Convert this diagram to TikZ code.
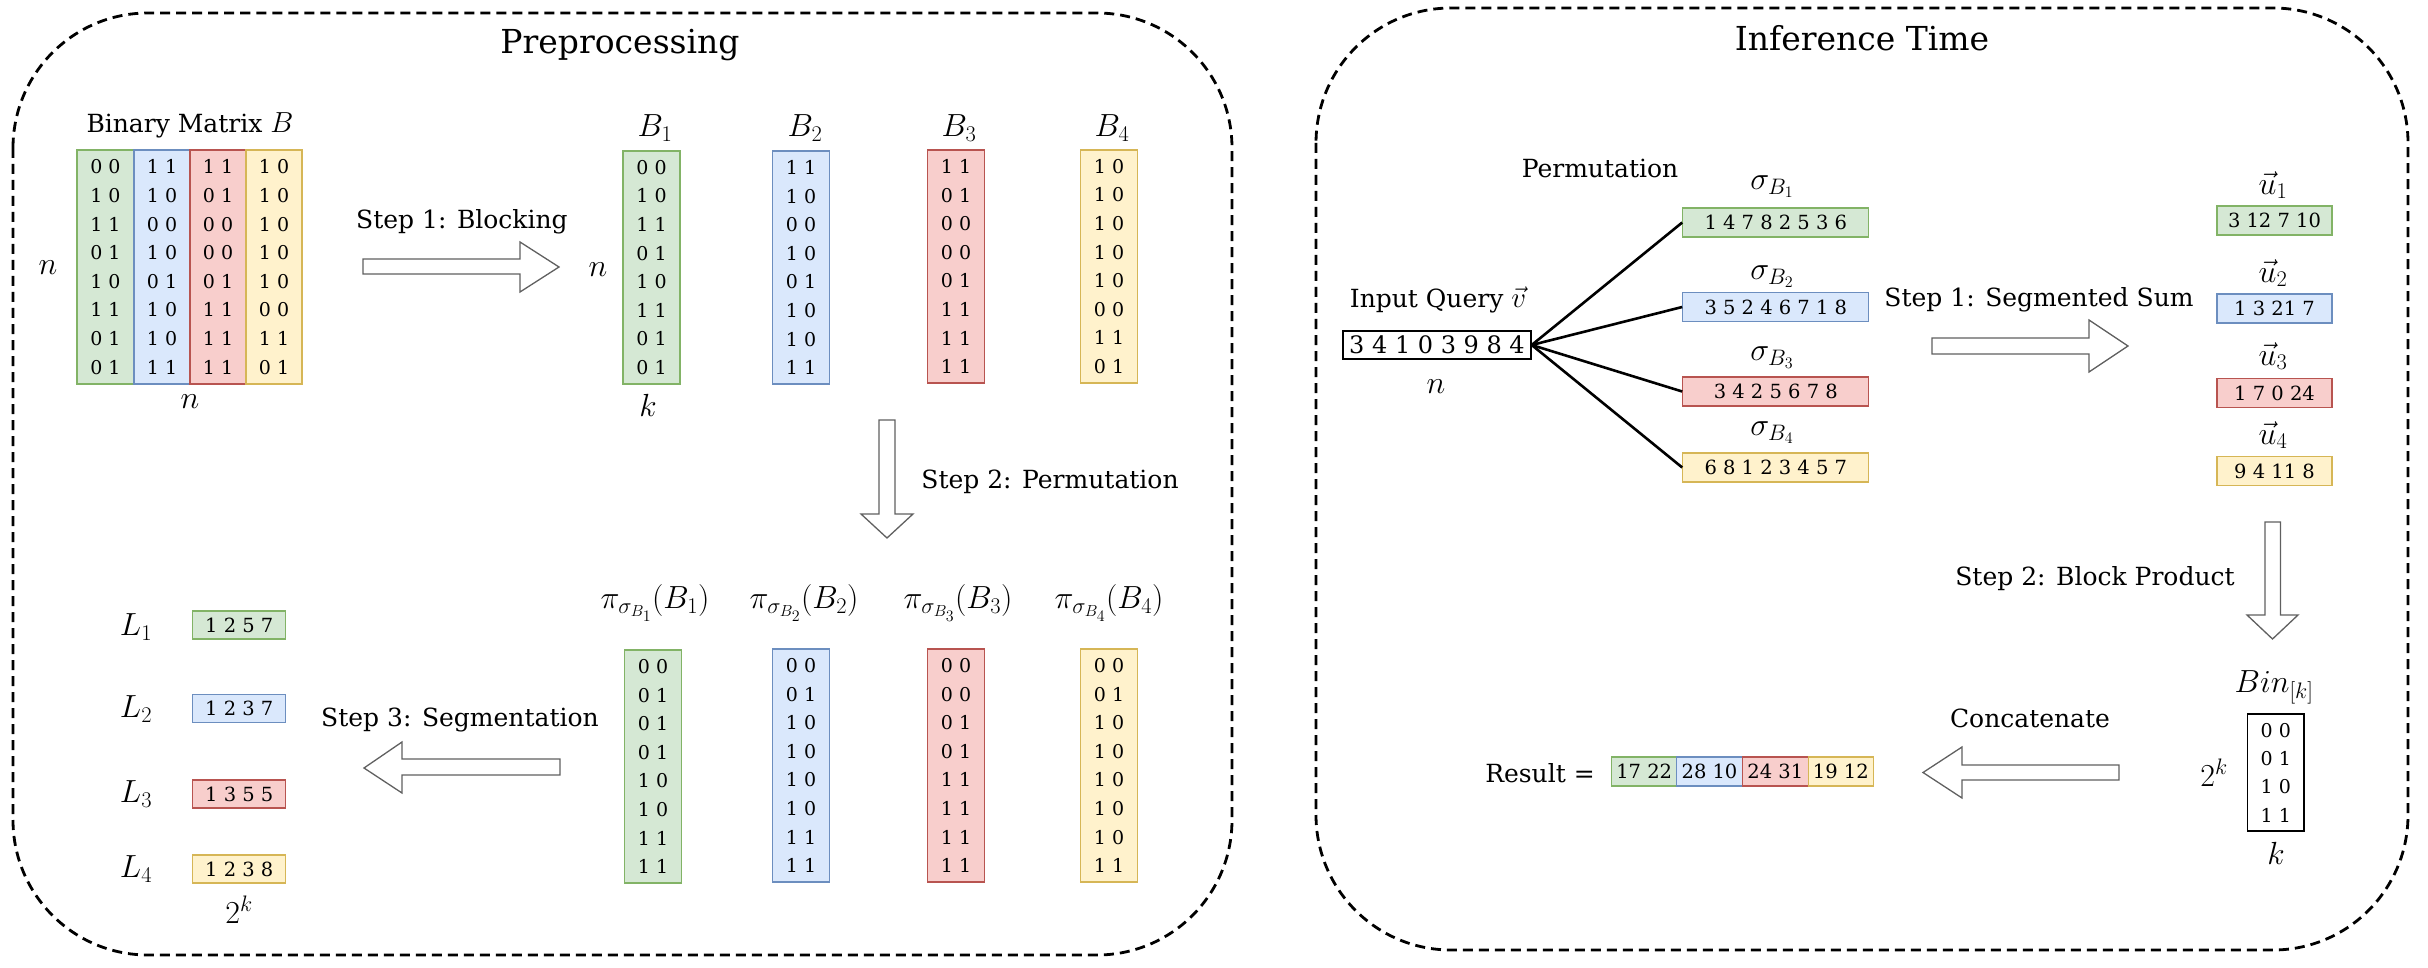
\RequirePackage{fix-cm}
\documentclass[tikz,border=0pt]{standalone}
\usepackage[no-math]{fontspec}
\setmainfont{DejaVu Serif}
\definecolor{gF}{HTML}{D5E8D4}\definecolor{gD}{HTML}{82B366}
\definecolor{bF}{HTML}{DAE8FC}\definecolor{bD}{HTML}{6C8EBF}
\definecolor{rF}{HTML}{F8CECC}\definecolor{rD}{HTML}{B85450}
\definecolor{yF}{HTML}{FFF2CC}\definecolor{yD}{HTML}{D6B656}
\definecolor{arrgray}{HTML}{606060}
\newcommand\szTitle{\fontsize{33}{38}\selectfont}
\newcommand\szLab{\fontsize{25}{30}\selectfont}
\newcommand\szDig{\fontsize{19}{28.6}\selectfont}
\newcommand\szRow{\fontsize{19.5}{24}\selectfont}
\newcommand\szQ{\fontsize{24}{28}\selectfont}
\newcommand\szMath{\fontsize{32}{36}\selectfont}
\newcommand\szMathS{\fontsize{29}{32}\selectfont}
\tikzset{
  panel/.style={draw, line width=2.8pt, dash pattern=on 10pt off 6pt, rounded corners=135pt},
  col/.style={inner sep=0pt, align=center, font=\szDig, line width=1.2pt},
  rowbox/.style={inner sep=0pt, font=\szRow, line width=1.2pt},
  gbox/.style={draw=gD, fill=gF},
  bbox/.style={draw=bD, fill=bF},
  rbox/.style={draw=rD, fill=rF},
  ybox/.style={draw=yD, fill=yF},
  barrow/.style={draw=arrgray, fill=white, line width=1.3pt, line join=miter},
  fan/.style={line width=2.6pt},
  lab/.style={font=\szLab, inner sep=0pt},
  mth/.style={font=\szMath, inner sep=0pt},
  ttl/.style={font=\szTitle, inner sep=0pt}
}
\begin{document}
\begin{tikzpicture}[x=1pt,y=-1pt]
\useasboundingbox (0,0) rectangle (2428,968);
% panels
\draw[panel] (13,13) rectangle (1232,955);
\draw[panel] (1316,8) rectangle (2408,950);
\node[ttl] (tpre) at (620,45) {Preprocessing};
\node[ttl] (tinf) at (1862,38) {Inference Time};

% ---------------- Preprocessing ----------------
\node[lab] (bmt) at (190,125) {Binary Matrix {\szMathS$B$}};
\node[col,gbox,minimum width=57,minimum height=234] (m1) at (105.5,267) {0 0\\1 0\\1 1\\0 1\\1 0\\1 1\\0 1\\0 1};
\node[col,bbox,minimum width=56,minimum height=234] (m2) at (162,267) {1 1\\1 0\\0 0\\1 0\\0 1\\1 0\\1 0\\1 1};
\node[col,rbox,minimum width=56,minimum height=234] (m3) at (218,267) {1 1\\0 1\\0 0\\0 0\\0 1\\1 1\\1 1\\1 1};
\node[col,ybox,minimum width=56,minimum height=234] (m4) at (274,267) {1 0\\1 0\\1 0\\1 0\\1 0\\0 0\\1 1\\0 1};
\node[mth] (mn1) at (48,268) {$n$};
\node[mth] (mn2) at (190,402) {$n$};

\draw[barrow] (363,259) -- (520,259) -- (520,242) -- (559,267) -- (520,292) -- (520,274) -- (363,274) -- cycle;
\node[lab] (s1) at (462,222) {Step 1: Blocking};

\node[mth] (lb1) at (655,128) {$B_1$};
\node[mth] (lb2) at (805,128) {$B_2$};
\node[mth] (lb3) at (959,128) {$B_3$};
\node[mth] (lb4) at (1112,128) {$B_4$};
\node[col,gbox,minimum width=57,minimum height=233] (B1) at (651.5,267.5) {0 0\\1 0\\1 1\\0 1\\1 0\\1 1\\0 1\\0 1};
\node[col,bbox,minimum width=57,minimum height=233] (B2) at (801,267.5) {1 1\\1 0\\0 0\\1 0\\0 1\\1 0\\1 0\\1 1};
\node[col,rbox,minimum width=57,minimum height=233] (B3) at (956,266.5) {1 1\\0 1\\0 0\\0 0\\0 1\\1 1\\1 1\\1 1};
\node[col,ybox,minimum width=57,minimum height=233] (B4) at (1109,266.5) {1 0\\1 0\\1 0\\1 0\\1 0\\0 0\\1 1\\0 1};
\node[mth] (bn) at (598,270) {$n$};
\node[mth] (bk) at (648,405) {$k$};

\draw[barrow] (879,420) -- (879,514) -- (861,514) -- (887,538) -- (913,514) -- (895,514) -- (895,420) -- cycle;
\node[lab] (s2) at (1050,482) {Step 2: Permutation};

\node[mth] (p1) at (655,603) {$\pi_{\sigma_{B_1}}(B_1)$};
\node[mth] (p2) at (804,603) {$\pi_{\sigma_{B_2}}(B_2)$};
\node[mth] (p3) at (958,603) {$\pi_{\sigma_{B_3}}(B_3)$};
\node[mth] (p4) at (1109,603) {$\pi_{\sigma_{B_4}}(B_4)$};
\node[col,gbox,minimum width=57,minimum height=233] (P1) at (653,766.5) {0 0\\0 1\\0 1\\0 1\\1 0\\1 0\\1 1\\1 1};
\node[col,bbox,minimum width=57,minimum height=233] (P2) at (801,765.5) {0 0\\0 1\\1 0\\1 0\\1 0\\1 0\\1 1\\1 1};
\node[col,rbox,minimum width=57,minimum height=233] (P3) at (956,765.5) {0 0\\0 0\\0 1\\0 1\\1 1\\1 1\\1 1\\1 1};
\node[col,ybox,minimum width=57,minimum height=233] (P4) at (1109,765.5) {0 0\\0 1\\1 0\\1 0\\1 0\\1 0\\1 0\\1 1};

\draw[barrow] (560,759) -- (402,759) -- (402,742) -- (364,768) -- (402,793) -- (402,775) -- (560,775) -- cycle;
\node[lab] (s3) at (460,720) {Step 3: Segmentation};

\node[mth] (l1) at (136,627) {$L_1$};
\node[mth] (l2) at (136,709) {$L_2$};
\node[mth] (l3) at (136,794) {$L_3$};
\node[mth] (l4) at (136,869) {$L_4$};
\node[rowbox,gbox,minimum width=93,minimum height=28] (L1) at (239.3,625) {1 2 5 7};
\node[rowbox,bbox,minimum width=93,minimum height=28] (L2) at (239.3,708.5) {1 2 3 7};
\node[rowbox,rbox,minimum width=93,minimum height=28] (L3) at (239.3,794) {1 3 5 5};
\node[rowbox,ybox,minimum width=93,minimum height=28] (L4) at (239.3,869) {1 2 3 8};
\node[mth] (lk) at (239,910) {$2^k$};

% ---------------- Inference ----------------
\node[lab] (perm) at (1600,168) {Permutation};
\node[lab] (iq) at (1438,300) {Input Query {\szMathS$\vec{v}$}};
\node[draw,line width=1.4pt,inner sep=0pt,minimum width=188,minimum height=28,font=\szQ] (inp) at (1437,345) {3 4 1 0 3 9 8 4};
\node[mth] (in) at (1436,387) {$n$};

\node[mth] (sg1) at (1772,187) {$\sigma_{B_1}$};
\node[mth] (sg2) at (1772,277) {$\sigma_{B_2}$};
\node[mth] (sg3) at (1772,358) {$\sigma_{B_3}$};
\node[mth] (sg4) at (1772,433) {$\sigma_{B_4}$};
\node[rowbox,gbox,minimum width=186,minimum height=29] (S1) at (1775.8,222.5) {1 4 7 8 2 5 3 6};
\node[rowbox,bbox,minimum width=186,minimum height=29] (S2) at (1775.8,307) {3 5 2 4 6 7 1 8};
\node[rowbox,rbox,minimum width=186,minimum height=29] (S3) at (1775.8,391.5) {3 4 2 5 6 7 8};
\node[rowbox,ybox,minimum width=186,minimum height=29] (S4) at (1775.8,467.5) {6 8 1 2 3 4 5 7};
\draw[fan] (inp.east) -- (S1.west);
\draw[fan] (inp.east) -- (S2.west);
\draw[fan] (inp.east) -- (S3.west);
\draw[fan] (inp.east) -- (S4.west);

\draw[barrow] (1932,338) -- (2089,338) -- (2089,320) -- (2128,346) -- (2089,372) -- (2089,354) -- (1932,354) -- cycle;
\node[lab] (ss) at (2039,300) {Step 1: Segmented Sum};

\node[mth] (u1) at (2273,185) {$\vec{u}_1$};
\node[mth] (u2) at (2273,273) {$\vec{u}_2$};
\node[mth] (u3) at (2273,356) {$\vec{u}_3$};
\node[mth] (u4) at (2273,435) {$\vec{u}_4$};
\node[rowbox,gbox,minimum width=115,minimum height=29] (U1) at (2274.5,220.5) {3 12 7 10};
\node[rowbox,bbox,minimum width=115,minimum height=29] (U2) at (2274.5,308.5) {1 3 21 7};
\node[rowbox,rbox,minimum width=115,minimum height=29] (U3) at (2274.5,393) {1 7 0 24};
\node[rowbox,ybox,minimum width=115,minimum height=29] (U4) at (2274.5,471) {9 4 11 8};

\draw[barrow] (2265,522) -- (2265,615) -- (2247,615) -- (2272.5,639) -- (2298,615) -- (2280.5,615) -- (2280.5,522) -- cycle;
\node[lab] (sb) at (2095,579) {Step 2: Block Product};

\node[mth] (binl) at (2274,687) {$Bin_{[k]}$};
\node[col,draw,line width=1.4pt,minimum width=56.5,minimum height=117,font=\fontsize{19}{28.3}\selectfont] (bin) at (2275.8,772.5) {0 0\\0 1\\1 0\\1 1};
\node[mth] (b2k) at (2214,773) {$2^k$};
\node[mth] (bk2) at (2276,853) {$k$};

\draw[barrow] (2119,765) -- (1962,765) -- (1962,747) -- (1923,772.5) -- (1962,798) -- (1962,780) -- (2119,780) -- cycle;
\node[lab] (cc) at (2030,718) {Concatenate};

\node[lab] (res) at (1540,773) {Result =};
\node[rowbox,gbox,minimum width=65,minimum height=29] (R1) at (1644.2,771.5) {17 22};
\node[rowbox,bbox,minimum width=65.6,minimum height=29] (R2) at (1709.5,771.5) {28 10};
\node[rowbox,rbox,minimum width=66,minimum height=29] (R3) at (1775.3,771.5) {24 31};
\node[rowbox,ybox,minimum width=65,minimum height=29] (R4) at (1840.8,771.5) {19 12};
\end{tikzpicture}
\end{document}
